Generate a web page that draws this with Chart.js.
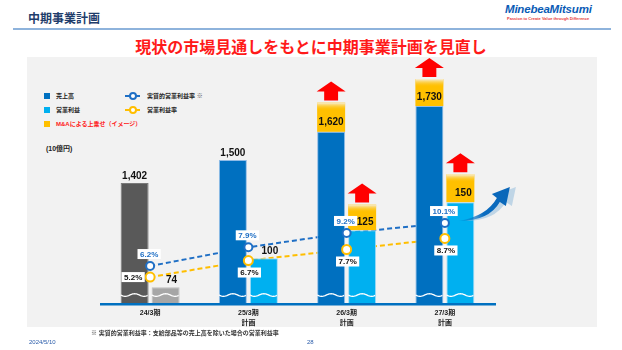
<!DOCTYPE html>
<html>
<head>
<meta charset="utf-8">
<script src="https://cdn.jsdelivr.net/npm/chart.js@4"></script>
<style>
  body { margin: 0; width: 622px; height: 350px; background: #fff; position: relative; overflow: hidden;
         font-family: "Liberation Sans", "Noto Sans CJK JP", sans-serif; }
  .abs { position: absolute; white-space: nowrap; }
  #panel { position: absolute; left: 27px; top: 57px; width: 570px; height: 270px; background: #f2f2f2; }
  #chart { position: absolute; left: 0; top: 0; }
  .sq { position: absolute; width: 6px; height: 6px; }
  .lg { position: absolute; font-size: 6px; font-weight: bold; color: #222; white-space: nowrap; line-height: 8px; }
  .ln { position: absolute; width: 15px; height: 0; border-top: 2px solid; }
  .dot { position: absolute; width: 4px; height: 4px; border: 2px solid; border-radius: 50%; background: #fff; }
</style>
</head>
<body>
<div class="abs" style="left:28px;top:9px;font-size:12px;font-weight:bold;color:#1f3d6b;font-family:'Noto Sans CJK JP';">中期事業計画</div>
<div class="abs" style="left:505px;top:3px;font-size:11.5px;font-weight:bold;font-style:italic;color:#0a5bb5;letter-spacing:-0.2px;">MinebeaMitsumi</div>
<div class="abs" style="left:507px;top:16px;font-size:4px;font-weight:bold;color:#e83a3a;">Passion to Create Value through Difference</div>
<div class="abs" style="left:13px;top:28px;width:598px;height:1.5px;background:#8eb3dc;"></div>
<div class="abs" style="left:0;width:622px;top:34px;text-align:center;font-size:16px;font-weight:bold;color:#ff1a1a;font-family:'Noto Sans CJK JP';">現状の市場見通しをもとに中期事業計画を見直し</div>
<div id="panel"></div>

<div class="sq" style="left:44px;top:93px;background:#0070c0;"></div>
<div class="lg" style="left:56px;top:92px;">売上高</div>
<div class="sq" style="left:44px;top:107px;background:#00b0f0;"></div>
<div class="lg" style="left:56px;top:106px;">営業利益</div>
<div class="sq" style="left:44px;top:121px;background:#ffc000;"></div>
<div class="lg" style="left:56px;top:120px;color:#ff2020;">M&amp;Aによる上乗せ（イメージ）</div>
<div class="ln" style="left:125px;top:95px;border-color:#1f6fc5;"></div>
<div class="dot" style="left:129px;top:92px;border-color:#1f6fc5;"></div>
<div class="lg" style="left:147px;top:92px;">実質的営業利益率 <span style="font-weight:normal;color:#555;">※</span></div>
<div class="ln" style="left:125px;top:109px;border-color:#ffbe00;"></div>
<div class="dot" style="left:129px;top:106px;border-color:#ffbe00;"></div>
<div class="lg" style="left:147px;top:106px;">営業利益率</div>
<div class="lg" style="left:46px;top:145px;font-size:7px;">(10億円)</div>

<canvas id="chart" width="622" height="350"></canvas>

<div class="abs" style="left:91px;top:328px;font-size:6px;font-weight:bold;color:#333;">※ 実質的営業利益率：支給部品等の売上高を除いた場合の営業利益率</div>
<div class="abs" style="left:29px;top:339px;font-size:6px;color:#2a5caa;">2024/5/10</div>
<div class="abs" style="left:307px;top:339px;font-size:6px;color:#2a5caa;">28</div>

<script>
// 値は図から読み取り（10億円 / %）
const categories = ['24/3期', ['25/3期', '計画'], ['26/3期', '計画'], ['27/3期', '計画']];
const sales = [1402, 1500, 1620, 1730];
const salesMA = [null, null, 125, 115];   // M&Aによる上乗せ（イメージ）
const opProfit = [74, 100, 125, 150];
const opMA = [null, null, 23, 25];
const realMargin = [6.2, 7.9, 9.2, 10.1];
const opMargin = [5.2, 6.7, 7.7, 8.7];

const BLUE = '#0070c0', LBLUE = '#00b0f0', YELLOW = '#ffc000';
const LINE_BLUE = '#1f6fc5', LINE_ORANGE = '#ffbe00';
const FONT = '"Liberation Sans", "Noto Sans CJK JP", sans-serif';

function upArrow(ctx, cx, baseY, w) {
    const stem = w * 0.48;
    ctx.beginPath();
    ctx.moveTo(cx - stem / 2, baseY);
    ctx.lineTo(cx - stem / 2, baseY - 9);
    ctx.lineTo(cx - w / 2, baseY - 9);
    ctx.lineTo(cx, baseY - 19);
    ctx.lineTo(cx + w / 2, baseY - 9);
    ctx.lineTo(cx + stem / 2, baseY - 9);
    ctx.lineTo(cx + stem / 2, baseY);
    ctx.closePath();
    ctx.fillStyle = '#ff0000';
    ctx.fill();
}

const decorations = {
    id: 'decorations',
    beforeDatasetsDraw(chart) {
        const { ctx, chartArea } = chart;
        // 軸の青線
        ctx.save();
        ctx.fillStyle = BLUE;
        ctx.fillRect(chartArea.left - 1, chartArea.bottom, chartArea.right - chartArea.left + 3, 2.5);
        ctx.restore();
    },
    afterDatasetsDraw(chart) {
        const { ctx, chartArea } = chart;
        ctx.save();

        // 波線（省略記号）
        [0, 2].forEach(di => {
            chart.getDatasetMeta(di).data.forEach(bar => {
                const w = bar.width, x0 = bar.x - w / 2, y = chartArea.bottom - 8;
                ctx.beginPath();
                for (let t = 0; t <= w; t += 1) {
                    const yy = y + 1.3 * Math.sin((t / w) * Math.PI * 3);
                    t === 0 ? ctx.moveTo(x0 + t, yy) : ctx.lineTo(x0 + t, yy);
                }
                ctx.strokeStyle = '#ffffff';
                ctx.lineWidth = 1.3;
                ctx.stroke();
            });
        });

        // 上乗せ部分のぼかしと矢印
        [1, 3].forEach(di => {
            const src = di === 1 ? salesMA : opMA;
            chart.getDatasetMeta(di).data.forEach((bar, i) => {
                if (src[i] == null) return;
                const w = bar.width, top = bar.y;
                const g = ctx.createLinearGradient(0, top, 0, top + 8);
                g.addColorStop(0, 'rgba(246,240,225,1)');
                g.addColorStop(1, 'rgba(255,192,0,0)');
                ctx.fillStyle = g;
                ctx.fillRect(bar.x - w / 2, top, w, 8);
                upArrow(ctx, bar.x, top - 2, w + 1);
            });
        });

        // 棒の数値
        ctx.font = 'bold 10px ' + FONT;
        ctx.fillStyle = '#111';
        ctx.textAlign = 'center';
        ctx.textBaseline = 'middle';
        [[0, 1, sales, salesMA, 0], [2, 3, opProfit, opMA, 6]].forEach(([bi, mi, vals, ma, dx]) => {
            const bars = chart.getDatasetMeta(bi).data;
            const maBars = chart.getDatasetMeta(mi).data;
            bars.forEach((bar, i) => {
                const txt = vals[i].toLocaleString('en-US');
                if (ma[i] != null) {
                    const m = maBars[i];
                    ctx.fillText(txt, bar.x + (dx ? 3 : 0), (m.y + m.base) / 2 + 5);
                } else {
                    ctx.fillText(txt, bar.x + dx, bar.y - 7);
                }
            });
        });

        // 利益率の数値ラベル
        ctx.font = 'bold 8px ' + FONT;
        const drawTag = (txt, x, y, color) => {
            const w = ctx.measureText(txt).width + 5;
            ctx.fillStyle = '#ffffff';
            ctx.fillRect(x - w / 2, y - 5, w, 10);
            ctx.fillStyle = color;
            ctx.fillText(txt, x, y + 0.5);
        };
        chart.getDatasetMeta(6).data.forEach((pt, i) => {
            drawTag(realMargin[i].toFixed(1) + '%', pt.x - 1, pt.y - 12, LINE_BLUE);
        });
        chart.getDatasetMeta(7).data.forEach((pt, i) => {
            if (i === 0) drawTag(opMargin[i].toFixed(1) + '%', pt.x - 17, pt.y, '#111');
            else drawTag(opMargin[i].toFixed(1) + '%', pt.x + 1, pt.y + 12, '#111');
        });

        // 右上がりの青い矢印
        const last = chart.getDatasetMeta(6).data[realMargin.length - 1];
        const ax = last.x + 14, ay = last.y - 2;
        const shape = (ox, oy) => {
            ctx.beginPath();
            ctx.moveTo(ax + ox, ay + oy);
            ctx.quadraticCurveTo(ax + 30 + ox, ay + oy, ax + 41 + ox, ay - 19 + oy);
            ctx.lineTo(ax + 47 + ox, ay - 15 + oy);
            ctx.lineTo(ax + 51 + ox, ay - 34 + oy);
            ctx.lineTo(ax + 33 + ox, ay - 27 + oy);
            ctx.lineTo(ax + 38 + ox, ay - 23 + oy);
            ctx.quadraticCurveTo(ax + 28 + ox, ay - 5 + oy, ax + ox, ay + oy);
            ctx.closePath();
        };
        shape(6, 0);
        ctx.fillStyle = 'rgba(150,190,220,0.55)';
        ctx.fill();
        shape(0, 0);
        const ag = ctx.createLinearGradient(ax, ay, ax + 50, ay - 34);
        ag.addColorStop(0, 'rgba(0,112,192,0.2)');
        ag.addColorStop(0.4, '#0a6cc0');
        ag.addColorStop(1, '#0a66b8');
        ctx.fillStyle = ag;
        ctx.fill();

        ctx.restore();
    }
};

const firstGray = (main, gray) => c => c.dataIndex === 0 ? gray : main;

new Chart(document.getElementById('chart'), {
    data: {
        labels: categories,
        datasets: [
            { type: 'bar', label: '売上高', data: sales, stack: 's', yAxisID: 'yS', order: 5,
              backgroundColor: firstGray(BLUE, '#595959'), borderColor: firstGray('#8fbbe6', '#7a7a7a'), borderWidth: 1 },
            { type: 'bar', label: 'M&A 売上高', data: salesMA, stack: 's', yAxisID: 'yS', order: 5,
              backgroundColor: YELLOW, borderWidth: 0 },
            { type: 'bar', label: '営業利益', data: opProfit, stack: 'o', yAxisID: 'yO', order: 5,
              backgroundColor: firstGray(LBLUE, '#a6a6a6'), borderColor: firstGray('#9fd9f5', '#bdbdbd'), borderWidth: 1 },
            { type: 'bar', label: 'M&A 営業利益', data: opMA, stack: 'o', yAxisID: 'yO', order: 5,
              backgroundColor: YELLOW, borderWidth: 0 },
            { type: 'line', label: '実質的営業利益率', data: realMargin, yAxisID: 'yP', order: 10,
              borderColor: LINE_BLUE, borderWidth: 2, borderDash: [5, 3], pointRadius: 0, fill: false },
            { type: 'line', label: '営業利益率', data: opMargin, yAxisID: 'yP', order: 10,
              borderColor: LINE_ORANGE, borderWidth: 2, borderDash: [5, 3], pointRadius: 0, fill: false },
            { type: 'line', label: '実質的営業利益率 点', data: realMargin, yAxisID: 'yP', order: 0, showLine: false,
              pointRadius: 4, pointBorderWidth: 2, pointBackgroundColor: '#fff', pointBorderColor: LINE_BLUE },
            { type: 'line', label: '営業利益率 点', data: opMargin, yAxisID: 'yP', order: 0, showLine: false,
              pointRadius: 4.5, pointBorderWidth: 2, pointBackgroundColor: '#fff', pointBorderColor: LINE_ORANGE }
        ]
    },
    options: {
        responsive: false,
        animation: false,
        layout: { padding: { left: 101, right: 128, top: 60, bottom: 17 } },
        datasets: { bar: { categoryPercentage: 0.631, barPercentage: 0.903 } },
        plugins: { legend: { display: false }, tooltip: { enabled: false } },
        scales: {
            x: {
                grid: { display: false, drawTicks: false, tickLength: 0 },
                border: { display: false },
                ticks: { color: '#222', padding: 5, font: { size: 7, weight: 'bold', family: FONT, lineHeight: 1.4 } },
                afterFit: s => { s.height = 30; }
            },
            yS: { display: false, stacked: true, min: 891, max: 1926 },
            yO: { display: false, stacked: true, min: 60, max: 277 },
            yP: { display: false, min: 2.85, max: 24.88 }
        }
    },
    plugins: [decorations]
});
</script>
</body>
</html>
